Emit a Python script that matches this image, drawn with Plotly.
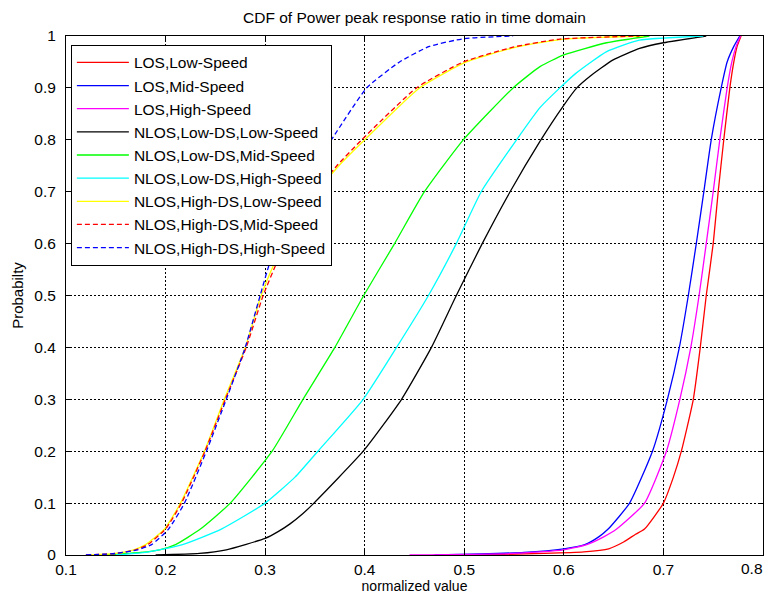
import plotly.graph_objects as go

# ---- data: CDF points (x = normalized value, p = probability) ----
los_low_x = [0.51, 0.58, 0.62, 0.645, 0.66, 0.672, 0.681, 0.700, 0.710, 0.718, 0.730, 0.737, 0.743, 0.750, 0.755, 0.7606, 0.7667, 0.7707, 0.774, 0.778]
los_low_p = [0.0, 0.003, 0.006, 0.012, 0.025, 0.04, 0.05, 0.1, 0.15, 0.2, 0.3, 0.4, 0.5, 0.6, 0.7, 0.8, 0.9, 0.95, 0.98, 1.0]

los_mid_x = [0.47, 0.56, 0.60, 0.621, 0.635, 0.6445, 0.666, 0.689, 0.704, 0.716, 0.725, 0.733, 0.7406, 0.748, 0.758, 0.764, 0.7707, 0.7767]
los_mid_p = [0.0, 0.005, 0.012, 0.02, 0.035, 0.05, 0.1, 0.2, 0.3, 0.4, 0.5, 0.6, 0.7, 0.8, 0.9, 0.95, 0.98, 1.0]

los_high_x = [0.445, 0.55, 0.60, 0.623, 0.64, 0.653, 0.681, 0.703, 0.7165, 0.7275, 0.7358, 0.743, 0.750, 0.7566, 0.764, 0.7687, 0.773, 0.7774]
los_high_p = [0.0, 0.003, 0.01, 0.02, 0.035, 0.05, 0.1, 0.2, 0.3, 0.4, 0.5, 0.6, 0.7, 0.8, 0.9, 0.95, 0.98, 1.0]

nlos_lds_low_x = [0.19, 0.234, 0.261, 0.300, 0.313, 0.325, 0.338, 0.349, 0.3985, 0.437, 0.467, 0.492, 0.518, 0.546, 0.576, 0.599, 0.613, 0.626, 0.6495, 0.676, 0.700, 0.743]
nlos_lds_low_p = [0.0, 0.003, 0.01, 0.032, 0.045, 0.06, 0.08, 0.1, 0.2, 0.3, 0.4, 0.5, 0.6, 0.7, 0.797, 0.864, 0.9, 0.922, 0.954, 0.976, 0.987, 1.0]

nlos_lds_mid_x = [0.14, 0.175, 0.194, 0.21, 0.235, 0.265, 0.307, 0.338, 0.370, 0.399, 0.430, 0.460, 0.499, 0.549, 0.576, 0.600, 0.643, 0.686]
nlos_lds_mid_p = [0.0, 0.005, 0.01, 0.02, 0.05, 0.1, 0.2, 0.3, 0.4, 0.5, 0.6, 0.7, 0.8, 0.9, 0.941, 0.9635, 0.987, 1.0]

nlos_lds_high_x = [0.15, 0.18, 0.217, 0.256, 0.300, 0.330, 0.353, 0.3985, 0.432, 0.464, 0.492, 0.517, 0.5525, 0.576, 0.596, 0.612, 0.643, 0.676, 0.740]
nlos_lds_high_p = [0.0, 0.005, 0.02, 0.05, 0.1, 0.15, 0.2, 0.3, 0.4, 0.5, 0.6, 0.7, 0.8, 0.862, 0.9, 0.928, 0.97, 0.992, 1.0]

nlos_hds_low_x = [0.125, 0.15, 0.168, 0.180, 0.199, 0.215, 0.239, 0.259, 0.280, 0.296, 0.310, 0.319, 0.334, 0.352, 0.374, 0.400, 0.455, 0.502, 0.553, 0.600, 0.680]
nlos_hds_low_p = [0.0, 0.003, 0.01, 0.02, 0.05, 0.1, 0.2, 0.3, 0.4, 0.5, 0.565, 0.6, 0.65, 0.7, 0.75, 0.8, 0.9, 0.95, 0.979, 0.994, 1.0]

nlos_hds_mid_x = [0.12, 0.15, 0.170, 0.182, 0.200, 0.216, 0.2396, 0.260, 0.281, 0.298, 0.312, 0.320, 0.334, 0.351, 0.372, 0.397, 0.452, 0.499, 0.550, 0.596, 0.676]
nlos_hds_mid_p = [0.0, 0.003, 0.01, 0.02, 0.05, 0.1, 0.2, 0.3, 0.4, 0.5, 0.565, 0.6, 0.65, 0.7, 0.75, 0.8, 0.9, 0.95, 0.979, 0.994, 1.0]

nlos_hds_high_x = [0.12, 0.15, 0.172, 0.186, 0.203, 0.219, 0.241, 0.261, 0.280, 0.295, 0.305, 0.325, 0.350, 0.372, 0.402, 0.435, 0.465, 0.500, 0.549]
nlos_hds_high_p = [0.0, 0.003, 0.01, 0.02, 0.05, 0.1, 0.2, 0.3, 0.4, 0.5, 0.565, 0.65, 0.75, 0.816, 0.9, 0.95, 0.98, 0.995, 1.0]

series_names = [
    "LOS,Low-Speed", "LOS,Mid-Speed", "LOS,High-Speed",
    "NLOS,Low-DS,Low-Speed", "NLOS,Low-DS,Mid-Speed", "NLOS,Low-DS,High-Speed",
    "NLOS,High-DS,Low-Speed", "NLOS,High-DS,Mid-Speed", "NLOS,High-DS,High-Speed",
]
series_x = [los_low_x, los_mid_x, los_high_x, nlos_lds_low_x, nlos_lds_mid_x,
            nlos_lds_high_x, nlos_hds_low_x, nlos_hds_mid_x, nlos_hds_high_x]
series_p = [los_low_p, los_mid_p, los_high_p, nlos_lds_low_p, nlos_lds_mid_p,
            nlos_lds_high_p, nlos_hds_low_p, nlos_hds_mid_p, nlos_hds_high_p]
series_colors = ["#FF0000", "#0000FF", "#FF00FF", "#000000", "#00FF00",
                 "#00FFFF", "#FFFF00", "#FF0000", "#0000FF"]
series_dash = ["solid"] * 7 + ["5px,3px", "5px,3px"]

x_ticks = [0.1, 0.2, 0.3, 0.4, 0.5, 0.6, 0.7, 0.8]
x_tick_labels = ["0.1", "0.2", "0.3", "0.4", "0.5", "0.6", "0.7", "0.8"]
y_ticks = [0, 0.1, 0.2, 0.3, 0.4, 0.5, 0.6, 0.7, 0.8, 0.9, 1]
y_tick_labels = ["0", "0.1", "0.2", "0.3", "0.4", "0.5", "0.6", "0.7", "0.8", "0.9", "1"]

FONT = "Liberation Sans, Arial, Helvetica, sans-serif"

# The page body adds an 8px margin on every side; the figure is sized so the
# whole page is exactly 773x602 (nothing may overflow the figure).
W, H = 757, 586

# the last x tick label sits at the figure edge; it is drawn as an annotation
# anchored inside the figure so it does not overflow
x_text = list(x_tick_labels[:-1]) + [""]

fig = go.Figure()
for name, xs, ps, c, d in zip(series_names, series_x, series_p, series_colors, series_dash):
    fig.add_trace(go.Scatter(
        x=xs, y=ps, mode="lines", name=name,
        line=dict(color=c, width=1.3, dash=d, shape="spline", smoothing=0.5),
    ))

axis_common = dict(
    showgrid=True, gridcolor="#000000", griddash="2px,2px", gridwidth=1,
    showline=True, linecolor="#000000", linewidth=1, mirror="ticks",
    ticks="inside", ticklen=5, tickcolor="#000000", tickwidth=1,
    zeroline=False, tickfont=dict(family=FONT, size=15.5, color="#000000"),
)

fig.add_annotation(
    text=x_tick_labels[-1], x=x_ticks[-1], xref="x", y=0, yref="paper",
    xanchor="right", yanchor="top", xshift=1, yshift=-4, showarrow=False,
    font=dict(family=FONT, size=15.5, color="#000000"), borderpad=0,
)

fig.update_layout(
    width=W, height=H,
    paper_bgcolor="white", plot_bgcolor="white",
    margin=dict(l=58, r=1.5, t=28, b=39),
    font=dict(family=FONT, size=15.5, color="#000000"),
    title=dict(text="CDF of Power peak response ratio in time domain",
               x=0.5, xref="paper", y=1 - 10 / H, yref="container",
               xanchor="center", yanchor="middle",
               font=dict(family=FONT, size=15.5, color="#000000")),
    xaxis=dict(range=[0.1, 0.8], tickmode="array", tickvals=x_ticks, ticktext=x_text,
               ticklabelstandoff=0,
               title=dict(text="normalized value", standoff=6,
                          font=dict(family=FONT, size=14, color="#000000")),
               **axis_common),
    yaxis=dict(range=[0, 1], tickmode="array", tickvals=y_ticks, ticktext=y_tick_labels,
               ticklabelstandoff=6,
               title=dict(text="Probabilty", standoff=7,
                          font=dict(family=FONT, size=15, color="#000000")),
               **axis_common),
    legend=dict(x=0.007, y=0.983, xanchor="left", yanchor="top",
                bgcolor="white", bordercolor="#000000", borderwidth=1,
                font=dict(family=FONT, size=15.5, color="#000000"),
                itemwidth=52),
    showlegend=True,
)

fig.write_html("out.html")
